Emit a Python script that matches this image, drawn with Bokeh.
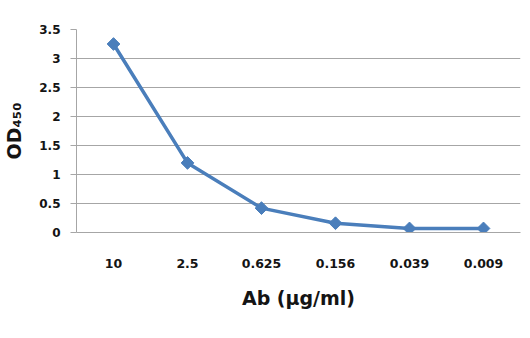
import math
from bokeh.plotting import figure
from bokeh.models import FactorRange, Range1d, FixedTicker
from bokeh.embed import file_html
from bokeh.resources import INLINE

concentrations = ["10", "2.5", "0.625", "0.156", "0.039", "0.009"]
od450 = [3.25, 1.2, 0.42, 0.16, 0.07, 0.07]
y_ticks = [0, 0.5, 1, 1.5, 2, 2.5, 3, 3.5]
y_tick_labels = ["0", "0.5", "1", "1.5", "2", "2.5", "3", "3.5"]

FONT = "DejaVu Sans"
LINE_COLOR = "#4a7ebb"
GRID = "#a6a6a6"
TXT = "#141414"

p = figure(width=522, height=330, output_backend="svg", toolbar_location=None,
           x_range=FactorRange(*concentrations, range_padding=0),
           y_range=Range1d(0, 3.5),
           min_border_left=76, min_border_right=2, min_border_top=29, min_border_bottom=98)
p.outline_line_color = None
p.background_fill_color = "white"

p.line(concentrations, od450, line_color=LINE_COLOR, line_width=3.5)
p.scatter(concentrations, od450, marker="square", angle=math.pi / 4, size=9,
          fill_color=LINE_COLOR, line_color=LINE_COLOR)

# y axis
p.yaxis.ticker = FixedTicker(ticks=y_ticks)
p.yaxis.major_label_overrides = {t: l for t, l in zip(y_ticks, y_tick_labels)}
p.yaxis.axis_line_color = GRID
p.yaxis.major_tick_line_color = GRID
p.yaxis.major_tick_out = 6
p.yaxis.major_tick_in = 0
p.yaxis.minor_tick_line_color = None
p.yaxis.major_label_text_font = FONT
p.yaxis.major_label_text_font_style = "bold"
p.yaxis.major_label_text_font_size = "12px"
p.yaxis.major_label_text_color = TXT
p.yaxis.major_label_standoff = 10
p.yaxis.axis_label = "OD₄₅₀"
p.yaxis.axis_label_text_font = FONT
p.yaxis.axis_label_text_font_style = "bold"
p.yaxis.axis_label_text_font_size = "19px"
p.yaxis.axis_label_text_color = TXT
p.yaxis.axis_label_standoff = 11
p.ygrid.ticker = FixedTicker(ticks=y_ticks)
p.ygrid.grid_line_color = GRID
p.ygrid.grid_line_width = 1

# x axis
p.xaxis.axis_line_color = GRID
p.xaxis.major_tick_line_color = None
p.xaxis.major_label_text_font = FONT
p.xaxis.major_label_text_font_style = "bold"
p.xaxis.major_label_text_font_size = "12.5px"
p.xaxis.major_label_text_color = TXT
p.xaxis.major_label_standoff = 20
p.xaxis.axis_label = "Ab (µg/ml)"
p.xaxis.axis_label_text_font = FONT
p.xaxis.axis_label_text_font_style = "bold"
p.xaxis.axis_label_text_font_size = "19px"
p.xaxis.axis_label_text_color = TXT
p.xaxis.axis_label_standoff = 16
p.xgrid.grid_line_color = None

open("out.html", "w").write(file_html(p, INLINE))
